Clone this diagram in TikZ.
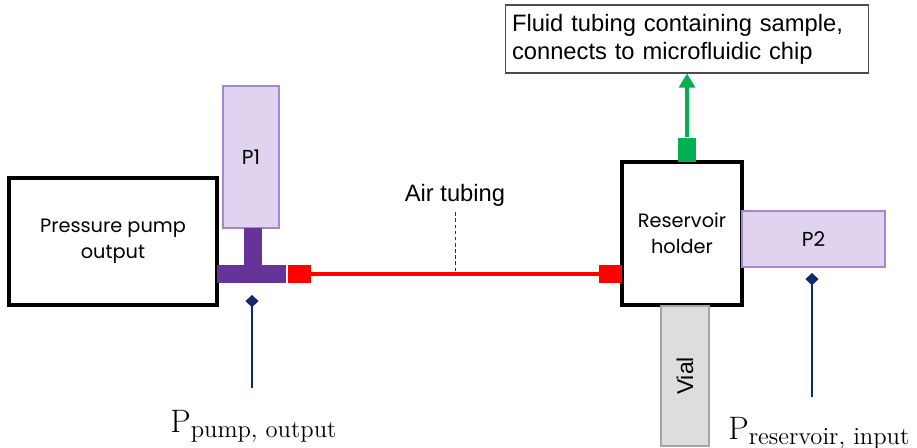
\documentclass[tikz,border=0pt]{standalone}
\usepackage{fontspec}
\newfontfamily\arial{Liberation Sans}
\newfontfamily\gothic{Poppins}
\usetikzlibrary{positioning,arrows.meta}
\definecolor{lavender}{HTML}{E0D3F0}
\definecolor{lavenderedge}{HTML}{A587CC}
\definecolor{teepurple}{HTML}{663399}
\definecolor{tubered}{HTML}{FF0000}
\definecolor{fluidgreen}{HTML}{00B050}
\definecolor{probenavy}{HTML}{0E2A6B}
\definecolor{vialgray}{HTML}{DDDDDD}
\definecolor{vialedge}{HTML}{A6A6A6}

\begin{document}
\begin{tikzpicture}[
  x=0.02cm, y=-0.02cm,
  outline/.style={rectangle, draw=black, line width=2pt, fill=white, inner sep=0pt, outer sep=0pt,
    align=center, font=\gothic\fontsize{11}{15}\selectfont},
  gauge/.style={rectangle, draw=lavenderedge, line width=0.7pt, fill=lavender, inner sep=0pt, outer sep=0pt,
    font=\gothic\fontsize{11.5}{14}\selectfont},
  tee/.style={rectangle, fill=teepurple, inner sep=0pt, outer sep=0pt},
  plug/.style={rectangle, fill=tubered, inner sep=0pt, outer sep=0pt, minimum width=0.47cm, minimum height=0.37cm},
  tube/.style={draw=tubered, line width=2pt},
  probe/.style={-{Diamond[length=7pt,width=7.5pt]}, draw=probenavy, line width=1.2pt},
  pressure/.style={anchor=base west, inner sep=0pt, font=\fontsize{18.5}{20}\selectfont},
  callout/.style={font=\arial\fontsize{13.5}{16}\selectfont}
]
  \useasboundingbox (0,0) rectangle (917,448);

  % pump side
  \node[outline, minimum width=4.16cm, minimum height=2.54cm] (pump) at (113,241.5) {Pressure pump\\output};
  \node[gauge, minimum width=1.12cm, minimum height=2.84cm] (p1) at (251,157) {P1};
  \node[tee, minimum width=0.36cm, minimum height=0.74cm] (stem) at (253,246.5) {};
  \node[tee, minimum width=1.38cm, minimum height=0.36cm] (bar) at (251.5,274) {};
  \node[plug, right=0.04cm of bar] (lplug) {};

  % reservoir side
  \node[outline, minimum width=2.4cm, minimum height=2.86cm] (res) at (682,233.5) {Reservoir\\holder};
  \node[plug, minimum width=0.46cm, left=0cm of res.west |- lplug] (rplug) {};
  \node[gauge, minimum width=2.86cm, minimum height=1.12cm] (p2) at (813.5,239) {P2};
  \node[rectangle, draw=vialedge, line width=0.6pt, fill=vialgray, inner sep=0pt,
    minimum width=0.96cm, minimum height=2.8cm, anchor=north] (vial) at (685,305.5)
    {\rotatebox{90}{\arial\fontsize{13}{15}\selectfont Vial}};
  \node[rectangle, fill=fluidgreen, inner sep=0pt, minimum width=0.36cm, minimum height=0.48cm,
    anchor=south] (gplug) at (687,162) {};
  \node[rectangle, draw=black!70, line width=0.6pt, fill=white, minimum width=7.28cm, minimum height=1.36cm,
    text width=7cm, align=left, callout] (fluid) at (687,39)
    {Fluid tubing containing sample,\\connects to microfluidic chip};

  % tubing
  \draw[tube] (lplug) -- (rplug);
  \coordinate (airmid) at (455,274);
  \node[callout] (air) at (455,195) {Air tubing};
  \draw[dashed, black!80, line width=0.5pt, dash pattern=on 2pt off 1.5pt] (air.south) -- (airmid);
  \draw[fluidgreen, line width=1.8pt, -{Triangle[length=8pt,width=9pt]}] (gplug) -- (fluid.south -| gplug);

  % pressure probes
  \coordinate (p1base) at (252,388);
  \coordinate (p1tip) at (252,295);
  \coordinate (p2base) at (812,397);
  \coordinate (p2tip) at (812,273);
  \draw[probe] (p1base) -- (p1tip);
  \draw[probe] (p2base) -- (p2tip);
  \node[pressure] (ppump) at (170,433) {P\raisebox{-2.5pt}{\fontsize{14}{16}\selectfont pump, output}};
  \node[pressure] (pres) at (728,440) {P\raisebox{-2.5pt}{\fontsize{14}{16}\selectfont reservoir, input}};
\end{tikzpicture}
\end{document}
